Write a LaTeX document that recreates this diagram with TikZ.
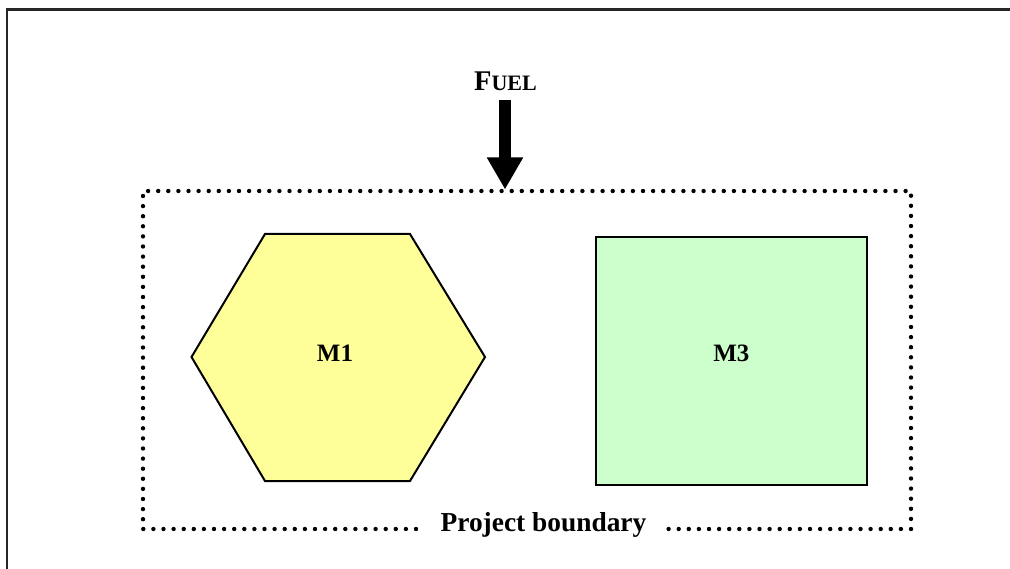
\documentclass[tikz,border=0pt]{standalone}
\usepackage{fontspec}
\setmainfont{Liberation Serif}
\usetikzlibrary{arrows.meta}
\definecolor{hexfill}{HTML}{FFFF99}
\definecolor{sqfill}{HTML}{CCFFCC}
\tikzset{
  px/.style={x=1pt,y=-1pt},
  boundaryline/.style={line width=4.4pt, line cap=round, dash pattern=on 0pt off 10.1pt},
  shapeline/.style={draw=black, line width=2pt, line join=miter},
  lbl/.style={font=\fontsize{25}{28}\selectfont\bfseries, inner sep=0pt},
}
\begin{document}
\begin{tikzpicture}[px]
\useasboundingbox (0,0) rectangle (1010,569);
\begin{scope}
\clip (0,0) rectangle (1010,569);
\draw[line width=2.2pt, draw=black!85] (7,9.5) rectangle (1030,590);
\end{scope}
% boundary
\coordinate (bl) at (143,529);
\coordinate (tl) at (143,191);
\coordinate (tr) at (911,191);
\coordinate (br) at (911,529);
\coordinate (gapL) at (416,529);
\coordinate (gapR) at (666,529);
\draw[boundaryline] (gapL) -- (bl) -- (tl) -- (tr) -- (br) -- (gapR);
\node[inner sep=0pt, anchor=base, font=\fontsize{27.4}{30}\selectfont\bfseries] (pb) at (543.5,531) {Project boundary};
% M1 hexagon
\filldraw[shapeline, fill=hexfill] (191.5,357) -- (265,234) -- (410,234) -- (485,357) -- (410,481) -- (265,481) -- cycle;
\node[lbl] (m1) at (335,353) {M1};
% M3 square
\node[shapeline, fill=sqfill, minimum width=271pt, minimum height=248pt, inner sep=0pt, anchor=north west] (m3box) at (595,236) {};
\node[lbl] (m3) at (731.3,353) {M3};
% fuel
\node[inner sep=0pt, anchor=base] (fuel) at (505.5,91) {\bfseries\fontsize{28.5}{30}\selectfont F\fontsize{22}{24}\selectfont UEL};
\coordinate (shafttop) at (505,100.5);
\coordinate (tip) at (505,189.5);
\draw[line width=12pt, -{Triangle[width=34pt,length=32pt]}] (shafttop) -- (tip);
\end{tikzpicture}
\end{document}
